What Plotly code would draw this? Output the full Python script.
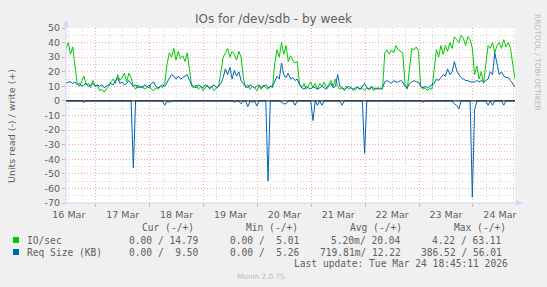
import plotly.graph_objects as go
import pandas as pd

# ---------------- data (hourly, 16 Mar 10:45 -> 24 Mar 18:45) ----------------
start_time = "2026-03-16 10:45"
end_time = "2026-03-24 18:45"
n_points = 201

io_write = [
    36, 40, 32, 37, 24,
    12, 10, 13, 17, 11, 12, 9, 14, 10, 11,
    7, 8, 6, 8, 10,
    13, 15, 12, 18, 14, 16, 19, 13, 19, 16,
    10, 8, 11, 9, 10, 8, 9, 11, 8, 7, 9, 8, 10, 9, 12,
    25, 33, 30, 36, 28, 34, 29, 31, 27, 33, 20,
    10, 9, 11, 8, 10, 7, 9, 11, 8, 10, 7, 9, 10,
    20, 30, 33, 36, 30, 34, 32, 28, 34, 30, 16,
    9, 11, 8, 10, 9, 7, 10, 8, 11, 9, 8, 10, 9,
    26, 35, 30, 40, 32, 38, 27, 31, 28, 26, 27, 12,
    9, 12, 8, 11, 13, 9, 12, 8, 12, 10, 13, 9, 11, 14, 10, 15,
    10, 8, 9, 7, 10, 8, 9, 7, 8, 10, 8, 9, 7, 9, 8, 10, 7, 9, 8, 9, 8,
    33, 35, 32, 35, 33, 38, 35, 34, 33, 12, 8, 22, 36, 35, 37, 34,
    10, 8, 9, 7, 9, 8,
    22, 35, 30, 38, 32, 38, 34, 40, 36, 44, 42, 40, 45, 43, 38, 44, 42, 36,
    18, 24, 15, 20, 12, 24, 38, 36, 40, 33, 38, 40, 36, 42, 37, 40, 36, 25, 15,
]

req_write = [
    12, 13, 13, 12, 13,
    11, 12, 10, 11, 12, 10, 11, 12, 10, 11,
    10, 11, 9, 10, 11,
    12, 11, 14, 16, 12, 13, 11, 12, 14, 12,
    10, 11, 9, 10, 9, 11, 10, 9, 12, 13, 10, 9, 10, 11, 10,
    13, 16, 18, 17, 15, 17, 15, 16, 17, 18, 14,
    11, 10, 9, 11, 10, 9, 11, 10, 9, 10, 11, 9, 10,
    12, 16, 22, 18, 23, 15, 21, 17, 20, 14, 12,
    10, 9, 11, 10, 9, 10, 11, 9, 10, 11, 9, 10, 10,
    13, 17, 15, 26, 18, 16, 19, 15, 16, 14, 15, 11,
    9, 8, 10, 9, 8, 10, 9, 8, 9, 10, 9, 8, 10, 12, 9, 10,
    18, 10, 9, 8, 9, 10, 9, 8, 9, 9, 8, 10, 12, 9, 8, 9, 9, 8, 9, 8, 9,
    13, 14, 13, 12, 14, 13, 13, 14, 13, 10, 9, 12, 13, 14, 13, 13,
    10, 9, 10, 9, 10, 11,
    12, 15, 14, 16, 18, 17, 22, 18, 20, 27, 21, 18, 16, 15, 14, 14, 13, 13,
    13, 14, 13, 14, 13, 14, 15, 20, 18, 33, 24, 18, 20, 17, 16, 16, 14, 12, 9.5,
]

req_read = [
    0, 0, 0, 0, 0, 0, 0, 0, 1, 0, 0, 0, 0, 0, 0, 0, 0, 0, 0, 0,
    0, 0, 0, 0, 0, 0, 0, 0, 0, 0, 46, 0, 0, 0, 0, 0, 0, 0, 0, 0,
    0, 0, 0, 0, 3, 0, 1, 0, 0, 0, 0, 0, 0, 0, 0, 0, 0, 0, 0, 0,
    0, 0, 0, 0, 0, 0, 0, 0, 0, 0, 0, 0, 0, 0, 0, 1, 0, 0, 2, 0,
    0, 4, 0, 1, 0, 3.5, 0, 0, 0, 0, 55, 0, 0, 0, 0, 0, 1, 2, 2, 0,
    0, 0, 3, 0, 0, 0, 0, 0, 0, 0, 13.5, 0, 3, 0, 3, 0, 0, 0, 0, 0,
    0, 0, 0, 3, 0, 0, 0, 0, 0, 0, 0, 0, 0, 36, 0, 0, 0, 0, 0, 0,
    0, 0, 0, 0, 0, 0, 0, 0, 0, 0, 0, 0, 0, 0, 0, 0, 0, 0, 0, 1,
    0, 0, 0, 0, 0, 0, 0, 0, 0, 0, 0, 0, 0, 2, 3, 5.5, 0, 0, 0, 0,
    0, 66, 6, 0, 0, 0, 0, 0, 3, 0, 3, 0, 0, 0, 0, 3, 0, 0, 0, 0, 0,
]

ytick_vals = [50, 40, 30, 20, 10, 0, -10, -20, -30, -40, -50, -60, -70]
ytick_text = ["50", "40", "30", "20", "10", "0", "-10", "-20", "-30", "-40", "-50", "-60", "-70"]

title = "IOs for /dev/sdb - by week"
ytitle = "Units read (-) / write (+)"
legend_names = ["IO/sec", "Req Size (KB)"]
legend_headers = ["Cur (-/+)", "Min (-/+)", "Avg (-/+)", "Max (-/+)"]
legend_values = [
    ["0.00 / 14.79", "0.00 /  5.01", "5.20m/ 20.04", "4.22 / 63.11"],
    ["0.00 /  9.50", "0.00 /  5.26", "719.81m/ 12.22", "386.52 / 56.01"],
]
last_update = "Last update: Tue Mar 24 18:45:11 2026"
munin_ver = "Munin 2.0.75"
rrd_credit = "RRDTOOL / TOBI OETIKER"

# ---------------- styling ----------------
GREEN = "#00CC00"
BLUE = "#0066B3"
FONT_C = "#606060"
MGRID = "#EBAAAA"
GRID = "#D6D6D6"
AXIS = "#CFD6F8"
W, H = 547, 287
L, R, T, B = 66, 515, 28, 203

def px(x):
    return (x - L) / (R - L)

def py(y):
    return (B - y) / (B - T)

times = pd.date_range(start=start_time, periods=n_points, freq="h")

fig = go.Figure()
fig.add_trace(go.Scatter(x=times, y=io_write, mode="lines",
                         line=dict(color=GREEN, width=1), hoverinfo="skip"))
fig.add_trace(go.Scatter(x=times, y=req_write, mode="lines",
                         line=dict(color=BLUE, width=1), hoverinfo="skip"))
fig.add_trace(go.Scatter(x=times, y=[-v for v in req_read], mode="lines",
                         line=dict(color=BLUE, width=1), hoverinfo="skip"))

fig.update_layout(
    width=W, height=H,
    margin=dict(l=L, r=W - R, t=T, b=H - B, pad=0),
    paper_bgcolor="#F0F0F0", plot_bgcolor="#FFFFFF",
    showlegend=False,
    font=dict(family="DejaVu Sans", color=FONT_C, size=9.5),
    xaxis=dict(
        type="date", range=[start_time, end_time],
        tick0="2026-03-16", dtick=86400000, tickformat="%d %b",
        ticklabelmode="period",
        showgrid=True, gridcolor=MGRID, griddash="1px,2px", gridwidth=1,
        minor=dict(dtick=21600000, showgrid=True, gridcolor=GRID,
                   griddash="1px,2px", gridwidth=1),
        ticks="outside", ticklen=3, tickcolor=MGRID,
        showline=False, zeroline=False,
        tickfont=dict(size=9.5, color=FONT_C),
    ),
    yaxis=dict(
        range=[-70, 50], tickmode="array", tickvals=ytick_vals, ticktext=ytick_text,
        showgrid=True, gridcolor=MGRID, griddash="1px,2px", gridwidth=1,
        minor=dict(tick0=0, dtick=5, showgrid=True, gridcolor=GRID,
                   griddash="1px,2px", gridwidth=1),
        ticks="outside", ticklen=3, tickcolor=MGRID,
        showline=False, zeroline=False,
        tickfont=dict(size=9.5, color=FONT_C),
    ),
)

shapes = []
# axis lines with arrows
shapes.append(dict(type="line", xref="paper", yref="paper",
                   x0=0, x1=0, y0=py(204), y1=py(22), line=dict(color=AXIS, width=1)))
shapes.append(dict(type="line", xref="paper", yref="paper",
                   x0=px(65), x1=px(519), y0=0, y1=0, line=dict(color=AXIS, width=1)))
shapes.append(dict(type="path", xref="paper", yref="paper",
                   path=f"M {px(63)},{py(27)} L {px(69)},{py(27)} L {px(66)},{py(20)} Z",
                   fillcolor=AXIS, line=dict(width=0)))
shapes.append(dict(type="path", xref="paper", yref="paper",
                   path=f"M {px(516)},{py(200)} L {px(516)},{py(206)} L {px(523)},{py(203)} Z",
                   fillcolor=AXIS, line=dict(width=0)))
# zero rule
shapes.append(dict(type="line", xref="paper", yref="y", x0=0, x1=1, y0=0, y1=0,
                   layer="above", line=dict(color="#000000", width=1)))
# legend swatches
for i, c in enumerate([GREEN, BLUE]):
    yc = 240 + i * 12
    shapes.append(dict(type="rect", xref="paper", yref="paper",
                       x0=px(13), x1=px(19), y0=py(yc + 3), y1=py(yc - 3),
                       fillcolor=c, line=dict(width=0)))
fig.update_layout(shapes=shapes)

ann = []
ann.append(dict(text=title, x=px(273.5), y=py(19), xref="paper", yref="paper",
                showarrow=False, xanchor="center", yanchor="middle",
                font=dict(family="DejaVu Sans", size=12, color=FONT_C)))
ann.append(dict(text=ytitle, x=px(11), y=py(126), xref="paper", yref="paper",
                showarrow=False, xanchor="center", yanchor="middle", textangle=-90,
                font=dict(family="DejaVu Sans", size=9.5, color=FONT_C)))
ann.append(dict(text=rrd_credit, x=px(538), y=py(62), xref="paper", yref="paper",
                showarrow=False, xanchor="center", yanchor="middle", textangle=90,
                font=dict(family="DejaVu Sans", size=7.5, color="#BBBBBB")))
ann.append(dict(text=munin_ver, x=px(261), y=py(276), xref="paper", yref="paper",
                showarrow=False, xanchor="center", yanchor="middle",
                font=dict(family="DejaVu Sans", size=7.3, color="#BBBBBB")))

MONO = "DejaVu Sans Mono"
MS = 9.6
header_x = [140, 244, 348, 452]
for hx, ht in zip(header_x, legend_headers):
    ann.append(dict(text=ht, x=px(hx - 0.5), y=py(227), xref="paper", yref="paper",
                    showarrow=False, xanchor="left", yanchor="middle",
                    font=dict(family=MONO, size=MS, color=FONT_C)))
value_right = [200.5, 301.5, 402.5, 503.5]
for r, (name, vals) in enumerate(zip(legend_names, legend_values)):
    yc = 240 + r * 12
    ann.append(dict(text=name, x=px(24.5), y=py(yc), xref="paper", yref="paper",
                    showarrow=False, xanchor="left", yanchor="middle",
                    font=dict(family=MONO, size=MS, color=FONT_C)))
    for vx, vt in zip(value_right, vals):
        ann.append(dict(text=vt.replace(" ", "&nbsp;"), x=px(vx), y=py(yc), xref="paper", yref="paper",
                        showarrow=False, xanchor="right", yanchor="middle",
                        font=dict(family=MONO, size=MS, color=FONT_C)))
ann.append(dict(text=last_update.replace(" ", "&nbsp;"), x=px(510), y=py(263), xref="paper", yref="paper",
                showarrow=False, xanchor="right", yanchor="middle",
                font=dict(family=MONO, size=MS, color=FONT_C)))
fig.update_layout(annotations=ann)

fig.write_html("out.html")
